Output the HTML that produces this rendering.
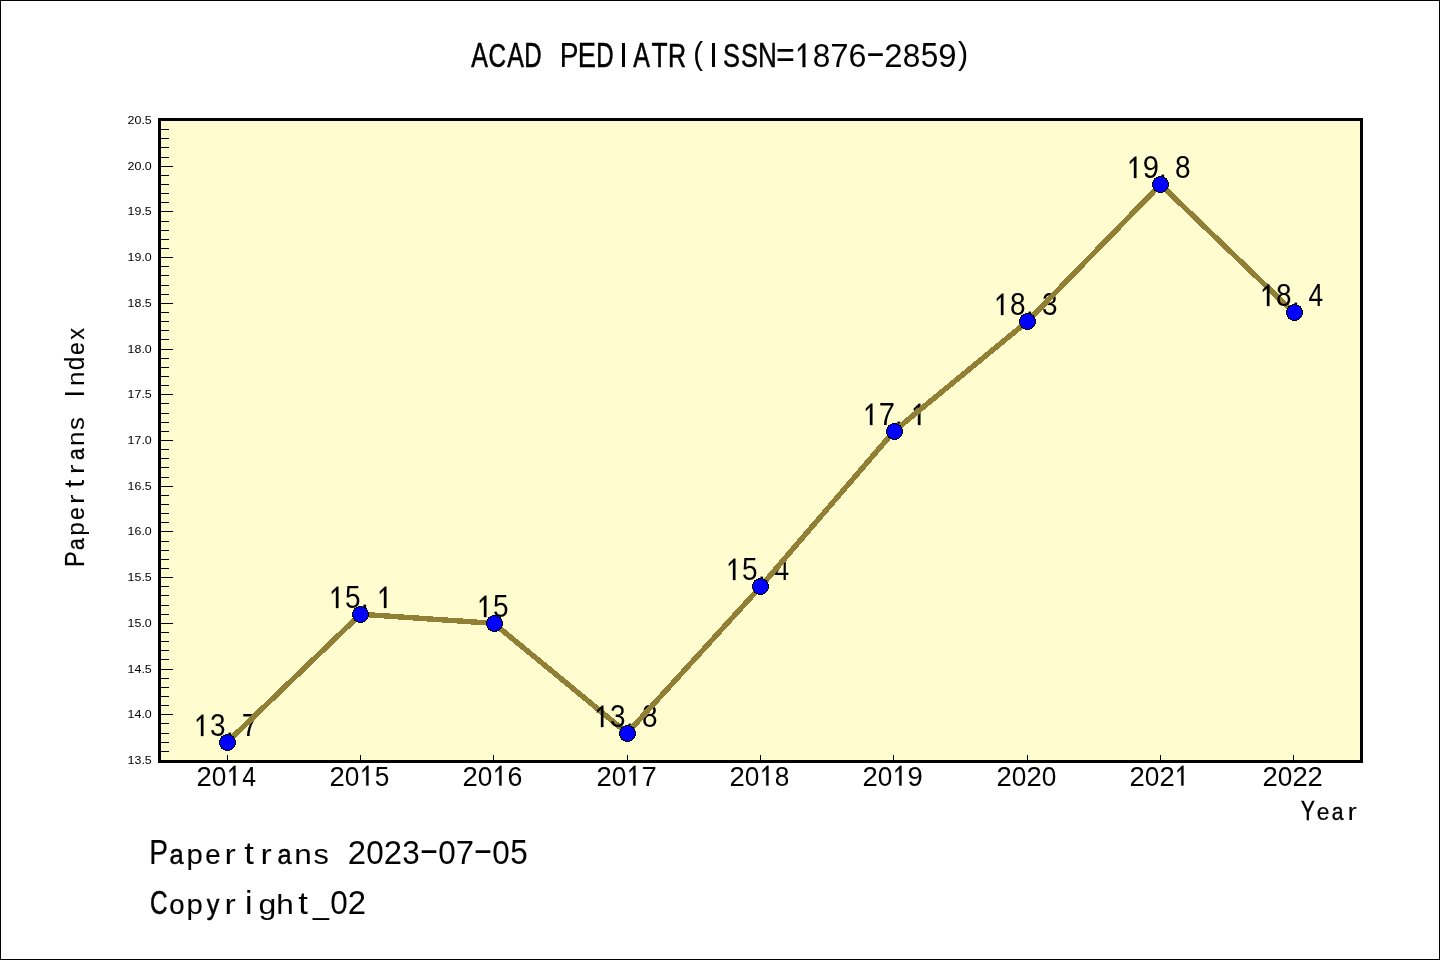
<!DOCTYPE html>
<html><head><meta charset="utf-8"><style>
html,body{margin:0;padding:0;background:#fff;width:1440px;height:960px;overflow:hidden}
svg{display:block;will-change:transform}
text{fill:#000;font-family:"Liberation Sans",sans-serif;text-anchor:middle}
.sh text{stroke:#000}
.sh path{stroke:#000;stroke-width:.01}
</style></head><body>
<svg width="1440" height="960" viewBox="0 0 1440 960">
<rect x="0.5" y="0.5" width="1439" height="959" fill="#fff" stroke="#000" stroke-width="1"/>
<rect x="159.5" y="119.5" width="1202" height="642" fill="#FFFDD0"/>
<path d="M160,760.5H173M160,751.5H169M160,742.5H169M160,733.5H169M160,723.5H169M160,714.5H173M160,705.5H169M160,696.5H169M160,687.5H169M160,678.5H169M160,669.5H173M160,659.5H169M160,650.5H169M160,641.5H169M160,632.5H169M160,623.5H173M160,614.5H169M160,605.5H169M160,595.5H169M160,586.5H169M160,577.5H173M160,568.5H169M160,559.5H169M160,550.5H169M160,541.5H169M160,531.5H173M160,522.5H169M160,513.5H169M160,504.5H169M160,495.5H169M160,486.5H173M160,477.5H169M160,467.5H169M160,458.5H169M160,449.5H169M160,440.5H173M160,431.5H169M160,422.5H169M160,413.5H169M160,403.5H169M160,394.5H173M160,385.5H169M160,376.5H169M160,367.5H169M160,358.5H169M160,349.5H173M160,339.5H169M160,330.5H169M160,321.5H169M160,312.5H169M160,303.5H173M160,294.5H169M160,285.5H169M160,275.5H169M160,266.5H169M160,257.5H173M160,248.5H169M160,239.5H169M160,230.5H169M160,221.5H169M160,211.5H173M160,202.5H169M160,193.5H169M160,184.5H169M160,175.5H169M160,166.5H173M160,157.5H169M160,147.5H169M160,138.5H169M160,129.5H169M160,120.5H173" stroke="#000" stroke-width="1" fill="none"/>
<path d="M227.5,755V761M360.5,755V761M493.5,755V761M627.5,755V761M760.5,755V761M893.5,755V761M1027.5,755V761M1160.5,755V761M1293.5,755V761" stroke="#000" stroke-width="1" fill="none"/>
<text x="151.8" y="764.40" font-size="11" style="text-anchor:end" textLength="24.2" lengthAdjust="spacingAndGlyphs">13.5</text>
<text x="151.8" y="718.40" font-size="11" style="text-anchor:end" textLength="24.2" lengthAdjust="spacingAndGlyphs">14.0</text>
<text x="151.8" y="673.40" font-size="11" style="text-anchor:end" textLength="24.2" lengthAdjust="spacingAndGlyphs">14.5</text>
<text x="151.8" y="627.40" font-size="11" style="text-anchor:end" textLength="24.2" lengthAdjust="spacingAndGlyphs">15.0</text>
<text x="151.8" y="581.40" font-size="11" style="text-anchor:end" textLength="24.2" lengthAdjust="spacingAndGlyphs">15.5</text>
<text x="151.8" y="535.40" font-size="11" style="text-anchor:end" textLength="24.2" lengthAdjust="spacingAndGlyphs">16.0</text>
<text x="151.8" y="490.40" font-size="11" style="text-anchor:end" textLength="24.2" lengthAdjust="spacingAndGlyphs">16.5</text>
<text x="151.8" y="444.40" font-size="11" style="text-anchor:end" textLength="24.2" lengthAdjust="spacingAndGlyphs">17.0</text>
<text x="151.8" y="398.40" font-size="11" style="text-anchor:end" textLength="24.2" lengthAdjust="spacingAndGlyphs">17.5</text>
<text x="151.8" y="353.40" font-size="11" style="text-anchor:end" textLength="24.2" lengthAdjust="spacingAndGlyphs">18.0</text>
<text x="151.8" y="307.40" font-size="11" style="text-anchor:end" textLength="24.2" lengthAdjust="spacingAndGlyphs">18.5</text>
<text x="151.8" y="261.40" font-size="11" style="text-anchor:end" textLength="24.2" lengthAdjust="spacingAndGlyphs">19.0</text>
<text x="151.8" y="215.40" font-size="11" style="text-anchor:end" textLength="24.2" lengthAdjust="spacingAndGlyphs">19.5</text>
<text x="151.8" y="170.40" font-size="11" style="text-anchor:end" textLength="24.2" lengthAdjust="spacingAndGlyphs">20.0</text>
<text x="151.8" y="124.40" font-size="11" style="text-anchor:end" textLength="24.2" lengthAdjust="spacingAndGlyphs">20.5</text>
<g class="sh"><text font-size="30" transform="translate(204.00,785.50) scale(0.9130,0.9371)" x="-0.00" stroke-width="0.000">2</text><text font-size="30" transform="translate(219.00,785.50) scale(0.8750,0.9371)" x="-0.00" stroke-width="0.000">0</text><path transform="translate(234.00,785.50) scale(30.000)" d="M.049,-.656L.049,0L-.024,0L-.024,-.55L-.15,-.43L-.15,-.505L.0,-.656Z"/><text font-size="30" transform="translate(249.00,785.50) scale(0.8235,0.9371)" x="0.15" stroke-width="0.032">4</text></g>
<g class="sh"><text font-size="30" transform="translate(337.00,785.50) scale(0.9130,0.9371)" x="-0.00" stroke-width="0.000">2</text><text font-size="30" transform="translate(352.00,785.50) scale(0.8750,0.9371)" x="-0.00" stroke-width="0.000">0</text><path transform="translate(367.00,785.50) scale(30.000)" d="M.049,-.656L.049,0L-.024,0L-.024,-.55L-.15,-.43L-.15,-.505L.0,-.656Z"/><text font-size="30" transform="translate(382.00,785.50) scale(0.8750,0.9507)" x="-0.00" stroke-width="0.000">5</text></g>
<g class="sh"><text font-size="30" transform="translate(470.00,785.50) scale(0.9130,0.9371)" x="-0.00" stroke-width="0.000">2</text><text font-size="30" transform="translate(485.00,785.50) scale(0.8750,0.9371)" x="-0.00" stroke-width="0.000">0</text><path transform="translate(500.00,785.50) scale(30.000)" d="M.049,-.656L.049,0L-.024,0L-.024,-.55L-.15,-.43L-.15,-.505L.0,-.656Z"/><text font-size="30" transform="translate(515.00,785.50) scale(0.8936,0.9371)" x="-0.15" stroke-width="0.000">6</text></g>
<g class="sh"><text font-size="30" transform="translate(604.00,785.50) scale(0.9130,0.9371)" x="-0.00" stroke-width="0.000">2</text><text font-size="30" transform="translate(619.00,785.50) scale(0.8750,0.9371)" x="-0.00" stroke-width="0.000">0</text><path transform="translate(634.00,785.50) scale(30.000)" d="M.049,-.656L.049,0L-.024,0L-.024,-.55L-.15,-.43L-.15,-.505L.0,-.656Z"/><text font-size="30" transform="translate(649.00,785.50) scale(0.9130,0.9371)" x="-0.00" stroke-width="0.000">7</text></g>
<g class="sh"><text font-size="30" transform="translate(737.00,785.50) scale(0.9130,0.9371)" x="-0.00" stroke-width="0.000">2</text><text font-size="30" transform="translate(752.00,785.50) scale(0.8750,0.9371)" x="-0.00" stroke-width="0.000">0</text><path transform="translate(767.00,785.50) scale(30.000)" d="M.049,-.656L.049,0L-.024,0L-.024,-.55L-.15,-.43L-.15,-.505L.0,-.656Z"/><text font-size="30" transform="translate(782.00,785.50) scale(0.8750,0.9371)" x="-0.00" stroke-width="0.000">8</text></g>
<g class="sh"><text font-size="30" transform="translate(870.00,785.50) scale(0.9130,0.9371)" x="-0.00" stroke-width="0.000">2</text><text font-size="30" transform="translate(885.00,785.50) scale(0.8750,0.9371)" x="-0.00" stroke-width="0.000">0</text><path transform="translate(900.00,785.50) scale(30.000)" d="M.049,-.656L.049,0L-.024,0L-.024,-.55L-.15,-.43L-.15,-.505L.0,-.656Z"/><text font-size="30" transform="translate(915.00,785.50) scale(0.9130,0.9371)" x="-0.00" stroke-width="0.000">9</text></g>
<g class="sh"><text font-size="30" transform="translate(1004.00,785.50) scale(0.9130,0.9371)" x="-0.00" stroke-width="0.000">2</text><text font-size="30" transform="translate(1019.00,785.50) scale(0.8750,0.9371)" x="-0.00" stroke-width="0.000">0</text><text font-size="30" transform="translate(1034.00,785.50) scale(0.9130,0.9371)" x="-0.00" stroke-width="0.000">2</text><text font-size="30" transform="translate(1049.00,785.50) scale(0.8750,0.9371)" x="-0.00" stroke-width="0.000">0</text></g>
<g class="sh"><text font-size="30" transform="translate(1137.00,785.50) scale(0.9130,0.9371)" x="-0.00" stroke-width="0.000">2</text><text font-size="30" transform="translate(1152.00,785.50) scale(0.8750,0.9371)" x="-0.00" stroke-width="0.000">0</text><text font-size="30" transform="translate(1167.00,785.50) scale(0.9130,0.9371)" x="-0.00" stroke-width="0.000">2</text><path transform="translate(1182.00,785.50) scale(30.000)" d="M.049,-.656L.049,0L-.024,0L-.024,-.55L-.15,-.43L-.15,-.505L.0,-.656Z"/></g>
<g class="sh"><text font-size="30" transform="translate(1270.00,785.50) scale(0.9130,0.9371)" x="-0.00" stroke-width="0.000">2</text><text font-size="30" transform="translate(1285.00,785.50) scale(0.8750,0.9371)" x="-0.00" stroke-width="0.000">0</text><text font-size="30" transform="translate(1300.00,785.50) scale(0.9130,0.9371)" x="-0.00" stroke-width="0.000">2</text><text font-size="30" transform="translate(1315.00,785.50) scale(0.9130,0.9371)" x="-0.00" stroke-width="0.000">2</text></g>
<g class="sh"><path transform="translate(201.77,736.00) scale(32.537)" d="M.049,-.656L.049,0L-.024,0L-.024,-.55L-.15,-.43L-.15,-.505L.0,-.656Z"/><text font-size="32" transform="translate(217.77,736.00) scale(0.8750,0.9529)" x="-0.00" stroke-width="0.000">3</text><text font-size="32" transform="translate(229.77,736.00) scale(0.9000,1.0000)" x="-0.00" stroke-width="0.000">.</text><text font-size="32" transform="translate(249.77,736.00) scale(0.9130,0.9529)" x="-0.00" stroke-width="0.000">7</text></g>
<path d="M227.17,742.21L360.50,614.21" stroke="#917F35" stroke-width="5.4" fill="none" shape-rendering="crispEdges"/>
<g class="sh"><path transform="translate(336.77,608.00) scale(32.537)" d="M.049,-.656L.049,0L-.024,0L-.024,-.55L-.15,-.43L-.15,-.505L.0,-.656Z"/><text font-size="32" transform="translate(352.77,608.00) scale(0.8750,0.9667)" x="-0.00" stroke-width="0.000">5</text><text font-size="32" transform="translate(364.77,608.00) scale(0.9000,1.0000)" x="-0.00" stroke-width="0.000">.</text><path transform="translate(384.77,608.00) scale(32.537)" d="M.049,-.656L.049,0L-.024,0L-.024,-.55L-.15,-.43L-.15,-.505L.0,-.656Z"/></g>
<path d="M360.50,614.21L493.83,623.36" stroke="#917F35" stroke-width="5.4" fill="none" shape-rendering="crispEdges"/>
<g class="sh"><path transform="translate(484.77,617.00) scale(32.537)" d="M.049,-.656L.049,0L-.024,0L-.024,-.55L-.15,-.43L-.15,-.505L.0,-.656Z"/><text font-size="32" transform="translate(500.77,617.00) scale(0.8750,0.9667)" x="-0.00" stroke-width="0.000">5</text></g>
<path d="M493.83,623.36L627.17,733.07" stroke="#917F35" stroke-width="5.4" fill="none" shape-rendering="crispEdges"/>
<g class="sh"><path transform="translate(601.77,727.00) scale(32.537)" d="M.049,-.656L.049,0L-.024,0L-.024,-.55L-.15,-.43L-.15,-.505L.0,-.656Z"/><text font-size="32" transform="translate(617.77,727.00) scale(0.8750,0.9529)" x="-0.00" stroke-width="0.000">3</text><text font-size="32" transform="translate(629.77,727.00) scale(0.9000,1.0000)" x="-0.00" stroke-width="0.000">.</text><text font-size="32" transform="translate(649.77,727.00) scale(0.8750,0.9529)" x="-0.00" stroke-width="0.000">8</text></g>
<path d="M627.17,733.07L760.50,586.79" stroke="#917F35" stroke-width="5.4" fill="none" shape-rendering="crispEdges"/>
<g class="sh"><path transform="translate(733.77,580.00) scale(32.537)" d="M.049,-.656L.049,0L-.024,0L-.024,-.55L-.15,-.43L-.15,-.505L.0,-.656Z"/><text font-size="32" transform="translate(749.77,580.00) scale(0.8750,0.9667)" x="-0.00" stroke-width="0.000">5</text><text font-size="32" transform="translate(761.77,580.00) scale(0.9000,1.0000)" x="-0.00" stroke-width="0.000">.</text><text font-size="32" transform="translate(781.77,580.00) scale(0.8235,0.9529)" x="0.16" stroke-width="0.034">4</text></g>
<path d="M760.50,586.79L893.83,431.36" stroke="#917F35" stroke-width="5.4" fill="none" shape-rendering="crispEdges"/>
<g class="sh"><path transform="translate(870.77,425.00) scale(32.537)" d="M.049,-.656L.049,0L-.024,0L-.024,-.55L-.15,-.43L-.15,-.505L.0,-.656Z"/><text font-size="32" transform="translate(886.77,425.00) scale(0.9130,0.9529)" x="-0.00" stroke-width="0.000">7</text><text font-size="32" transform="translate(898.77,425.00) scale(0.9000,1.0000)" x="-0.00" stroke-width="0.000">.</text><path transform="translate(918.77,425.00) scale(32.537)" d="M.049,-.656L.049,0L-.024,0L-.024,-.55L-.15,-.43L-.15,-.505L.0,-.656Z"/></g>
<path d="M893.83,431.36L1027.17,321.64" stroke="#917F35" stroke-width="5.4" fill="none" shape-rendering="crispEdges"/>
<g class="sh"><path transform="translate(1001.77,315.00) scale(32.537)" d="M.049,-.656L.049,0L-.024,0L-.024,-.55L-.15,-.43L-.15,-.505L.0,-.656Z"/><text font-size="32" transform="translate(1017.77,315.00) scale(0.8750,0.9529)" x="-0.00" stroke-width="0.000">8</text><text font-size="32" transform="translate(1029.77,315.00) scale(0.9000,1.0000)" x="-0.00" stroke-width="0.000">.</text><text font-size="32" transform="translate(1049.77,315.00) scale(0.8750,0.9529)" x="-0.00" stroke-width="0.000">3</text></g>
<path d="M1027.17,321.64L1160.50,184.50" stroke="#917F35" stroke-width="5.4" fill="none" shape-rendering="crispEdges"/>
<g class="sh"><path transform="translate(1134.77,178.00) scale(32.537)" d="M.049,-.656L.049,0L-.024,0L-.024,-.55L-.15,-.43L-.15,-.505L.0,-.656Z"/><text font-size="32" transform="translate(1150.77,178.00) scale(0.9130,0.9529)" x="-0.00" stroke-width="0.000">9</text><text font-size="32" transform="translate(1162.77,178.00) scale(0.9000,1.0000)" x="-0.00" stroke-width="0.000">.</text><text font-size="32" transform="translate(1182.77,178.00) scale(0.8750,0.9529)" x="-0.00" stroke-width="0.000">8</text></g>
<path d="M1160.50,184.50L1293.83,312.50" stroke="#917F35" stroke-width="5.4" fill="none" shape-rendering="crispEdges"/>
<g class="sh"><path transform="translate(1267.77,306.00) scale(32.537)" d="M.049,-.656L.049,0L-.024,0L-.024,-.55L-.15,-.43L-.15,-.505L.0,-.656Z"/><text font-size="32" transform="translate(1283.77,306.00) scale(0.8750,0.9529)" x="-0.00" stroke-width="0.000">8</text><text font-size="32" transform="translate(1295.77,306.00) scale(0.9000,1.0000)" x="-0.00" stroke-width="0.000">.</text><text font-size="32" transform="translate(1315.77,306.00) scale(0.8235,0.9529)" x="0.16" stroke-width="0.034">4</text></g>
<circle cx="227.50" cy="742.50" r="8.50" fill="#000" shape-rendering="crispEdges"/>
<circle cx="227.50" cy="742.50" r="7.50" fill="#0000FF" shape-rendering="crispEdges"/>
<circle cx="360.50" cy="614.50" r="8.50" fill="#000" shape-rendering="crispEdges"/>
<circle cx="360.50" cy="614.50" r="7.50" fill="#0000FF" shape-rendering="crispEdges"/>
<circle cx="494.50" cy="623.50" r="8.50" fill="#000" shape-rendering="crispEdges"/>
<circle cx="494.50" cy="623.50" r="7.50" fill="#0000FF" shape-rendering="crispEdges"/>
<circle cx="627.50" cy="733.50" r="8.50" fill="#000" shape-rendering="crispEdges"/>
<circle cx="627.50" cy="733.50" r="7.50" fill="#0000FF" shape-rendering="crispEdges"/>
<circle cx="760.50" cy="586.50" r="8.50" fill="#000" shape-rendering="crispEdges"/>
<circle cx="760.50" cy="586.50" r="7.50" fill="#0000FF" shape-rendering="crispEdges"/>
<circle cx="894.50" cy="431.50" r="8.50" fill="#000" shape-rendering="crispEdges"/>
<circle cx="894.50" cy="431.50" r="7.50" fill="#0000FF" shape-rendering="crispEdges"/>
<circle cx="1027.50" cy="321.50" r="8.50" fill="#000" shape-rendering="crispEdges"/>
<circle cx="1027.50" cy="321.50" r="7.50" fill="#0000FF" shape-rendering="crispEdges"/>
<circle cx="1160.50" cy="184.50" r="8.50" fill="#000" shape-rendering="crispEdges"/>
<circle cx="1160.50" cy="184.50" r="7.50" fill="#0000FF" shape-rendering="crispEdges"/>
<circle cx="1294.50" cy="312.50" r="8.50" fill="#000" shape-rendering="crispEdges"/>
<circle cx="1294.50" cy="312.50" r="7.50" fill="#0000FF" shape-rendering="crispEdges"/>
<rect x="159.5" y="119.5" width="1202" height="642" fill="none" stroke="#000" stroke-width="3"/>
<g class="sh"><text font-size="36" transform="translate(479.50,67.10) scale(0.6939,0.9507)" x="-0.00" stroke-width="0.600">A</text><text font-size="36" transform="translate(497.50,67.10) scale(0.6746,0.9371)" x="-0.18" stroke-width="0.600">C</text><text font-size="36" transform="translate(515.50,67.10) scale(0.6939,0.9507)" x="-0.00" stroke-width="0.600">A</text><text font-size="36" transform="translate(533.50,67.10) scale(0.6667,0.9507)" x="-0.72" stroke-width="0.600">D</text><text font-size="36" transform="translate(569.50,67.10) scale(0.7830,0.9507)" x="-0.54" stroke-width="0.208">P</text><text font-size="36" transform="translate(587.50,67.10) scale(0.7593,0.9507)" x="-0.72" stroke-width="0.316">E</text><text font-size="36" transform="translate(605.50,67.10) scale(0.6667,0.9507)" x="-0.72" stroke-width="0.600">D</text><text font-size="36" transform="translate(623.50,67.10) scale(0.9000,0.9507)" x="-0.00" stroke-width="0.000">I</text><text font-size="36" transform="translate(641.50,67.10) scale(0.6939,0.9507)" x="-0.00" stroke-width="0.600">A</text><text font-size="36" transform="translate(659.50,67.10) scale(0.7321,0.9507)" x="-0.00" stroke-width="0.448">T</text><text font-size="36" transform="translate(677.50,67.10) scale(0.6949,0.9371)" x="-0.54" stroke-width="0.600">R</text><text font-size="36" transform="translate(698.90,63.86) scale(0.8148,0.8511)" x="-0.90" stroke-width="0.074">(</text><text font-size="36" transform="translate(713.50,67.10) scale(0.9000,0.9507)" x="-0.00" stroke-width="0.000">I</text><text font-size="36" transform="translate(731.50,67.10) scale(0.7069,0.9371)" x="-0.00" stroke-width="0.580">S</text><text font-size="36" transform="translate(749.50,67.10) scale(0.7069,0.9371)" x="-0.00" stroke-width="0.580">S</text><text font-size="36" transform="translate(767.50,67.10) scale(0.7232,0.9507)" x="-0.00" stroke-width="0.493">N</text><text font-size="36" transform="translate(785.50,67.10) scale(0.8958,1.0000)" x="-0.00" stroke-width="0.000">=</text><path transform="translate(803.50,67.10) scale(36.000)" d="M.049,-.656L.049,0L-.024,0L-.024,-.55L-.15,-.43L-.15,-.505L.0,-.656Z"/><text font-size="36" transform="translate(821.50,67.10) scale(0.8750,0.9371)" x="-0.00" stroke-width="0.000">8</text><text font-size="36" transform="translate(839.50,67.10) scale(0.9130,0.9371)" x="-0.00" stroke-width="0.000">7</text><text font-size="36" transform="translate(857.50,67.10) scale(0.8936,0.9371)" x="-0.18" stroke-width="0.000">6</text><text font-size="36" transform="translate(875.50,63.61) scale(1.6667,1.0000)" x="-0.00" stroke-width="0.000">-</text><text font-size="36" transform="translate(893.50,67.10) scale(0.9130,0.9371)" x="-0.00" stroke-width="0.000">2</text><text font-size="36" transform="translate(911.50,67.10) scale(0.8750,0.9371)" x="-0.00" stroke-width="0.000">8</text><text font-size="36" transform="translate(929.50,67.10) scale(0.8750,0.9507)" x="-0.00" stroke-width="0.000">5</text><text font-size="36" transform="translate(947.50,67.10) scale(0.9130,0.9371)" x="-0.00" stroke-width="0.000">9</text><text font-size="36" transform="translate(962.25,63.86) scale(0.8462,0.8511)" x="1.08" stroke-width="0.000">)</text></g>
<g transform="translate(84.2,566.2) rotate(-90)"><g class="sh"><text font-size="30" transform="translate(7.50,0.00) scale(0.7830,0.9507)" x="-0.45" stroke-width="0.173">P</text><text font-size="30" transform="translate(22.50,0.00) scale(0.7058,0.7870)" x="-0.60" stroke-width="0.488">a</text><text font-size="30" transform="translate(37.50,0.00) scale(0.8156,0.7870)" x="-0.45" stroke-width="0.059">p</text><text font-size="30" transform="translate(52.50,0.00) scale(0.7646,0.7870)" x="-0.00" stroke-width="0.243">e</text><text font-size="30" transform="translate(67.50,0.00) scale(0.9400,0.7870)" x="-0.75" stroke-width="0.000">r</text><text font-size="30" transform="translate(82.50,0.00) scale(0.9615,0.8923)" x="-0.00" stroke-width="0.000">t</text><text font-size="30" transform="translate(97.50,0.00) scale(0.9400,0.7870)" x="-0.75" stroke-width="0.000">r</text><text font-size="30" transform="translate(112.50,0.00) scale(0.7058,0.7870)" x="-0.60" stroke-width="0.488">a</text><text font-size="30" transform="translate(127.50,0.00) scale(0.8738,0.7870)" x="-0.00" stroke-width="0.000">n</text><text font-size="30" transform="translate(142.50,0.00) scale(0.8535,0.7870)" x="0.15" stroke-width="0.000">s</text><text font-size="30" transform="translate(172.50,0.00) scale(0.9000,0.9507)" x="-0.00" stroke-width="0.000">I</text><text font-size="30" transform="translate(187.50,0.00) scale(0.8738,0.7870)" x="-0.00" stroke-width="0.000">n</text><text font-size="30" transform="translate(202.50,0.00) scale(0.8156,0.9178)" x="0.45" stroke-width="0.059">d</text><text font-size="30" transform="translate(217.50,0.00) scale(0.7646,0.7870)" x="-0.00" stroke-width="0.243">e</text><text font-size="30" transform="translate(232.50,0.00) scale(0.7917,0.7870)" x="-0.00" stroke-width="0.142">x</text></g></g>
<g class="sh"><text font-size="30" transform="translate(1308.00,820.20) scale(0.6887,0.9507)" x="-0.00" stroke-width="0.567">Y</text><text font-size="30" transform="translate(1323.00,820.20) scale(0.7646,0.7870)" x="-0.00" stroke-width="0.243">e</text><text font-size="30" transform="translate(1338.00,820.20) scale(0.7058,0.7870)" x="-0.60" stroke-width="0.488">a</text><text font-size="30" transform="translate(1353.00,820.20) scale(0.9400,0.7870)" x="-0.75" stroke-width="0.000">r</text></g>
<g class="sh"><text font-size="36" transform="translate(159.00,864.00) scale(0.7830,0.9507)" x="-0.54" stroke-width="0.208">P</text><text font-size="36" transform="translate(177.00,864.00) scale(0.7058,0.7870)" x="-0.72" stroke-width="0.586">a</text><text font-size="36" transform="translate(195.00,864.00) scale(0.8156,0.7870)" x="-0.54" stroke-width="0.071">p</text><text font-size="36" transform="translate(213.00,864.00) scale(0.7646,0.7870)" x="-0.00" stroke-width="0.291">e</text><text font-size="36" transform="translate(231.00,864.00) scale(0.9400,0.7870)" x="-0.90" stroke-width="0.000">r</text><text font-size="36" transform="translate(249.00,864.00) scale(0.9615,0.8923)" x="-0.00" stroke-width="0.000">t</text><text font-size="36" transform="translate(267.00,864.00) scale(0.9400,0.7870)" x="-0.90" stroke-width="0.000">r</text><text font-size="36" transform="translate(285.00,864.00) scale(0.7058,0.7870)" x="-0.72" stroke-width="0.586">a</text><text font-size="36" transform="translate(303.00,864.00) scale(0.8738,0.7870)" x="-0.00" stroke-width="0.000">n</text><text font-size="36" transform="translate(321.00,864.00) scale(0.8535,0.7870)" x="0.18" stroke-width="0.000">s</text><text font-size="36" transform="translate(357.00,864.00) scale(0.9130,0.9371)" x="-0.00" stroke-width="0.000">2</text><text font-size="36" transform="translate(375.00,864.00) scale(0.8750,0.9371)" x="-0.00" stroke-width="0.000">0</text><text font-size="36" transform="translate(393.00,864.00) scale(0.9130,0.9371)" x="-0.00" stroke-width="0.000">2</text><text font-size="36" transform="translate(411.00,864.00) scale(0.8750,0.9371)" x="-0.00" stroke-width="0.000">3</text><text font-size="36" transform="translate(429.00,860.51) scale(1.6667,1.0000)" x="-0.00" stroke-width="0.000">-</text><text font-size="36" transform="translate(447.00,864.00) scale(0.8750,0.9371)" x="-0.00" stroke-width="0.000">0</text><text font-size="36" transform="translate(465.00,864.00) scale(0.9130,0.9371)" x="-0.00" stroke-width="0.000">7</text><text font-size="36" transform="translate(483.00,860.51) scale(1.6667,1.0000)" x="-0.00" stroke-width="0.000">-</text><text font-size="36" transform="translate(501.00,864.00) scale(0.8750,0.9371)" x="-0.00" stroke-width="0.000">0</text><text font-size="36" transform="translate(519.00,864.00) scale(0.8750,0.9507)" x="-0.00" stroke-width="0.000">5</text></g>
<g class="sh"><text font-size="36" transform="translate(159.00,914.00) scale(0.6746,0.9371)" x="-0.18" stroke-width="0.600">C</text><text font-size="36" transform="translate(177.00,914.00) scale(0.7646,0.7870)" x="-0.00" stroke-width="0.291">o</text><text font-size="36" transform="translate(195.00,914.00) scale(0.8156,0.7870)" x="-0.54" stroke-width="0.071">p</text><text font-size="36" transform="translate(213.00,914.00) scale(0.7000,0.7870)" x="-0.00" stroke-width="0.600">y</text><text font-size="36" transform="translate(231.00,914.00) scale(0.9400,0.7870)" x="-0.90" stroke-width="0.000">r</text><text font-size="36" transform="translate(249.00,914.00) scale(0.9444,0.8986)" x="-0.18" stroke-width="0.000">i</text><text font-size="36" transform="translate(267.00,914.00) scale(0.8889,0.7870)" x="0.54" stroke-width="0.000">g</text><text font-size="36" transform="translate(285.00,914.00) scale(0.8738,0.7870)" x="-0.00" stroke-width="0.000">h</text><text font-size="36" transform="translate(303.00,914.00) scale(0.9615,0.8923)" x="-0.00" stroke-width="0.000">t</text><text font-size="36" transform="translate(321.00,914.00) scale(0.7931,0.8000)" x="-0.00" stroke-width="0.164">_</text><text font-size="36" transform="translate(339.00,914.00) scale(0.8750,0.9371)" x="-0.00" stroke-width="0.000">0</text><text font-size="36" transform="translate(357.00,914.00) scale(0.9130,0.9371)" x="-0.00" stroke-width="0.000">2</text></g>
</svg>
</body></html>
